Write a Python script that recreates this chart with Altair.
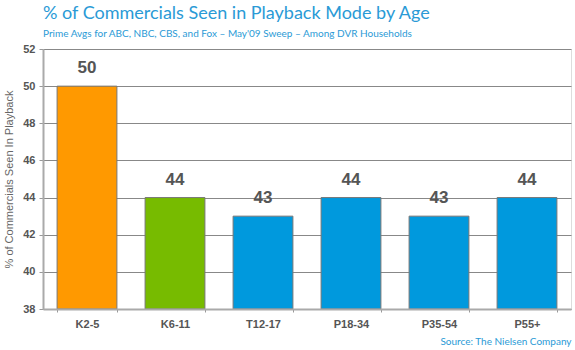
import altair as alt
import pandas as pd

categories = ["K2-5", "K6-11", "T12-17", "P18-34", "P35-54", "P55+"]
values = [50, 44, 43, 44, 43, 44]
colors = ["#FF9900", "#77BB00", "#0099DD", "#0099DD", "#0099DD", "#0099DD"]
y_ticks = [38, 40, 42, 44, 46, 48, 50, 52]

df = pd.DataFrame({"cat": categories, "val": values, "color": colors})

x = alt.X("cat:N", sort=categories, scale=alt.Scale(paddingInner=0.32, paddingOuter=0.16),
          axis=alt.Axis(title="Source: The Nielsen Company", titleAnchor="end", titleAlign="right",
                        titleColor="#2A9AD6", titleFont="Lato", titleFontSize=10,
                        titleFontWeight="normal", titlePadding=7,
                        labelAngle=0, labelFont="Arial", labelFontSize=11, labelFontWeight="bold",
                        labelColor="#555555", labelPadding=6, tickBand="extent", tickSize=3,
                        tickColor="#999999", domainColor="#AAAAAA", domainWidth=2, zindex=1))
y = alt.Y("val:Q", scale=alt.Scale(domain=[38, 52], zero=False, nice=False),
          axis=alt.Axis(values=y_ticks, title="% of Commercials Seen In Playback",
                        titleFont="Arial", titleFontSize=11, titleFontWeight="normal",
                        titleColor="#666666", titlePadding=8, labelOverlap=False,
                        labelFont="Arial", labelFontSize=11, labelFontWeight="bold",
                        labelColor="#555555", labelPadding=4, tickSize=4, tickColor="#999999",
                        domainColor="#AAAAAA", domainWidth=2, gridColor="#888888", gridWidth=1))

base = alt.Chart(df).encode(x=x, y=y)

bars = base.mark_bar(stroke="#777777", strokeWidth=1).encode(
    y2=alt.datum(38), color=alt.Color("color:N", scale=None))

labels = base.mark_text(baseline="bottom", dy=-9, font="Arial", fontSize=17,
                        fontWeight="bold", color="#555555").encode(text="val:Q")

chart = (bars + labels).properties(
    width=528, height=260,
    title=alt.TitleParams(
        text="% of Commercials Seen in Playback Mode by Age",
        subtitle="Prime Avgs for ABC, NBC, CBS, and Fox \u2013 May'09 Sweep \u2013 Among DVR Households",
        anchor="start", frame="group", font="Lato", fontSize=18, fontWeight="normal",
        color="#2A9AD6", subtitleFont="Lato", subtitleFontSize=10, subtitleColor="#2A9AD6",
        subtitlePadding=6, offset=4, dx=0),
    autosize=alt.AutoSizeParams(type="none"),
    padding={"left": 43, "top": 49, "right": 4, "bottom": 41},
).configure_view(stroke="#888888", strokeWidth=1).configure(background="white")

chart.save("out.html", embed_options={"renderer": "svg", "actions": False})
